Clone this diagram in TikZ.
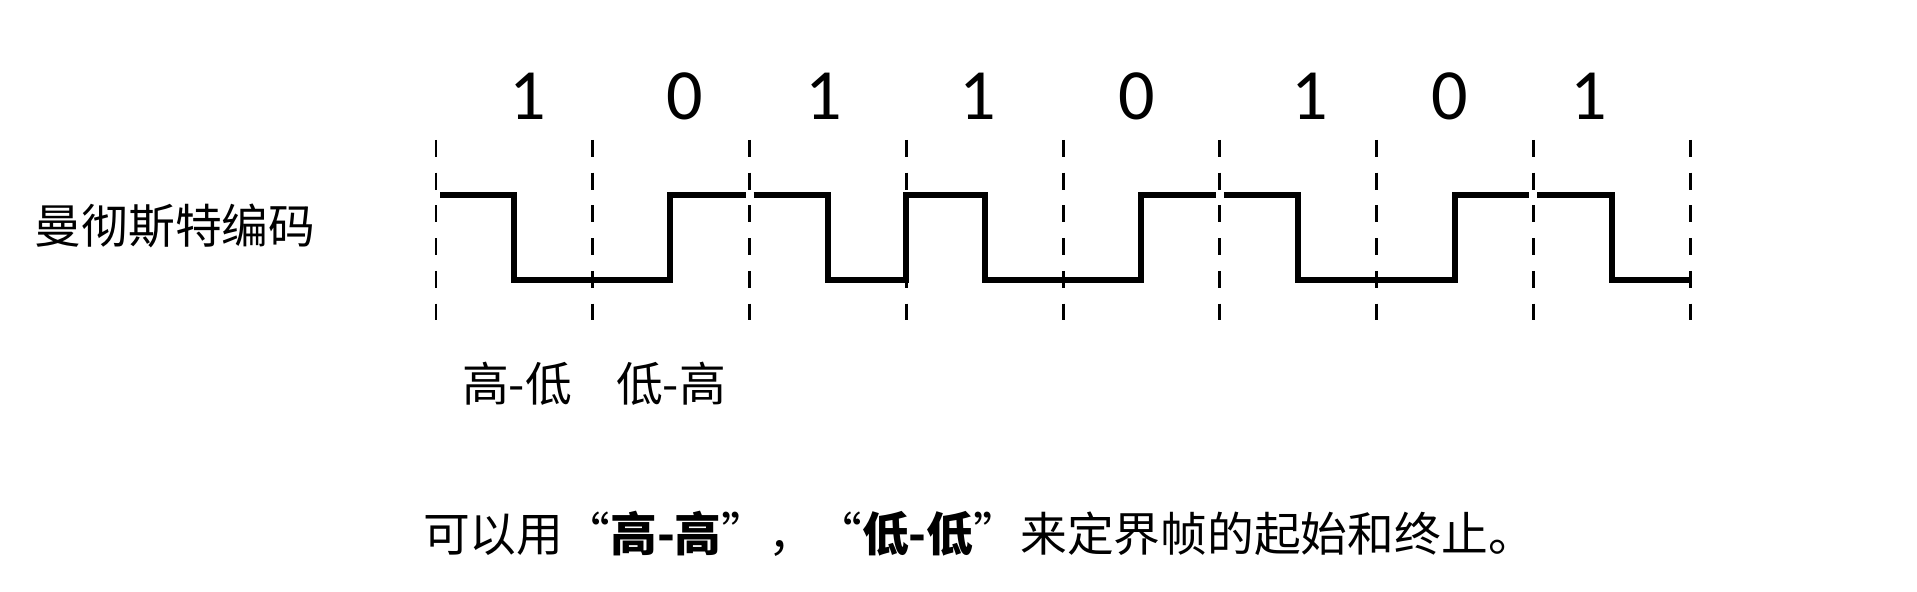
\documentclass[tikz,border=0pt]{standalone}
\usepackage{fontspec}
\newfontfamily\cjk{Noto Sans CJK SC}
\newfontfamily\digits{Carlito}
\usepackage{tikz}

\begin{document}
\begin{tikzpicture}[x=0.01cm, y=-0.01cm,
  txt/.style={inner sep=0pt, font=\cjk\fontsize{13.3pt}{16pt}\selectfont},
  bit/.style={inner sep=0pt, anchor=base, font=\digits\fontsize{20.5pt}{24pt}\selectfont},
  boundary/.style={line width=0.85pt, dash pattern=on 4.8pt off 4.5pt},
  signal/.style={line width=1.7pt}]

  \useasboundingbox (0,0) rectangle (1917,592);

  % Label
  \node[txt] (code) at (175,226) {曼彻斯特编码};

  % Bits
  \node[bit] (d1) at (528,120) {1};
  \node[bit] (d2) at (685,120) {0};
  \node[bit] (d3) at (824,120) {1};
  \node[bit] (d4) at (978,120) {1};
  \node[bit] (d5) at (1137,120) {0};
  \node[bit] (d6) at (1310,120) {1};
  \node[bit] (d7) at (1450,120) {0};
  \node[bit] (d8) at (1589,120) {1};

  % Dashed boundaries
  \draw[boundary] (436,140) -- (436,326);
  \draw[boundary] (592.75,140) -- (592.75,326);
  \draw[boundary] (749.5,140) -- (749.5,326);
  \draw[boundary] (906.25,140) -- (906.25,326);
  \draw[boundary] (1063,140) -- (1063,326);
  \draw[boundary] (1219.75,140) -- (1219.75,326);
  \draw[boundary] (1376.5,140) -- (1376.5,326);
  \draw[boundary] (1533.25,140) -- (1533.25,326);
  \draw[boundary] (1690,140) -- (1690,326);

  % Waveform
  \draw[signal] (440,195) -- (514.4,195) -- (514.4,280) -- (670.1,280) -- (670.1,195)
    -- (745.5,195);
  \draw[signal] (753.5,195) -- (827.9,195) -- (827.9,280) -- (906.25,280) -- (906.25,195)
    -- (984.6,195) -- (984.6,280) -- (1141.4,280) -- (1141.4,195) -- (1215.75,195);
  \draw[signal] (1223.75,195) -- (1298.1,195) -- (1298.1,280) -- (1454.9,280) -- (1454.9,195)
    -- (1529.25,195);
  \draw[signal] (1537.25,195) -- (1611.6,195) -- (1611.6,280) -- (1690,280);

  % Transition labels
  \node[txt] (hl) at (517,384) {高-低};
  \node[txt] (lh) at (671,384) {低-高};

  % Note
  \node[txt] (note) at (979,534) {可以用“\textbf{高-高}”，“\textbf{低-低}”来定界帧的起始和终止。};

\end{tikzpicture}
\end{document}
